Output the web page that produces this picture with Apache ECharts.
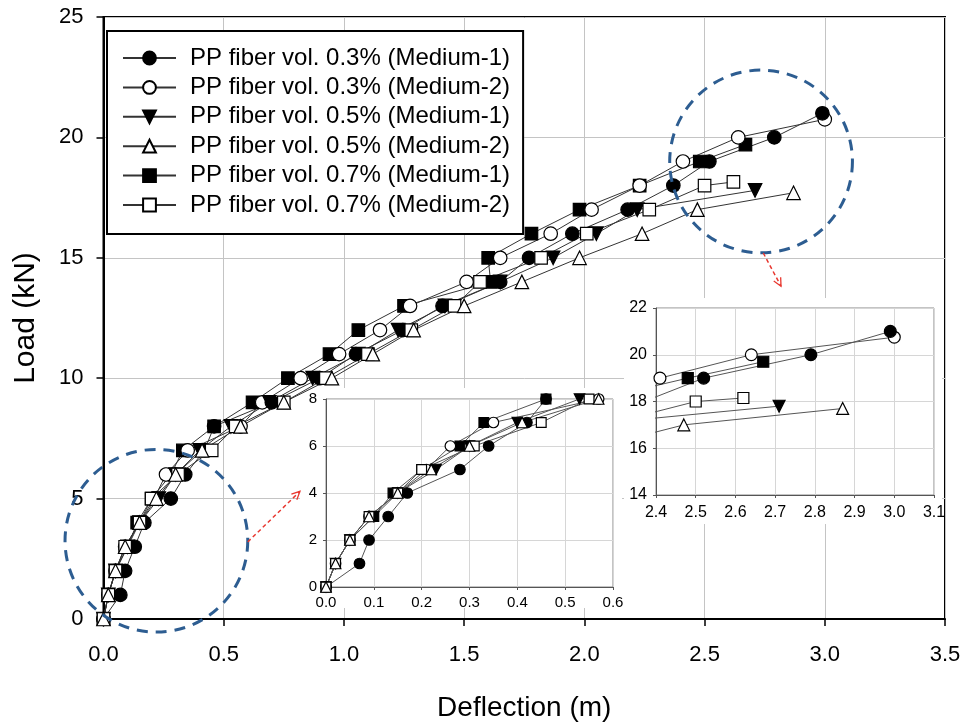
<!DOCTYPE html>
<html>
<head>
<meta charset="utf-8">
<script src="https://cdn.jsdelivr.net/npm/echarts@6/dist/echarts.min.js"></script>
<style>
html,body{margin:0;padding:0;background:#fff;}
#c{width:964px;height:727px;}
</style>
</head>
<body>
<div id="c"></div>
<script>
// ---- data (deflection in m, load in kN) ----
const names = [
  'PP fiber vol. 0.3% (Medium-1)',
  'PP fiber vol. 0.3% (Medium-2)',
  'PP fiber vol. 0.5% (Medium-1)',
  'PP fiber vol. 0.5% (Medium-2)',
  'PP fiber vol. 0.7% (Medium-1)',
  'PP fiber vol. 0.7% (Medium-2)'
];
const defl03m1 = [0,0.07,0.09,0.13,0.17,0.28,0.34,0.42,0.46,0.70,0.90,1.05,1.245,1.41,1.65,1.77,1.95,2.18,2.37,2.52,2.79,2.99];
const load03m1 = [0,1,2,3,4,5,6,7,8,9,10,11,12,13,14,15,16,17,18,19,20,21];
const defl03m2 = [0,0.02,0.05,0.09,0.15,0.21,0.26,0.35,0.57,0.66,0.82,0.98,1.15,1.275,1.51,1.65,1.86,2.03,2.23,2.41,2.64,3.0];
const load03m2 = [0,1,2,3,4,5,6,7,8,9,10,11,12,13,14,15,16,17,18,19,20,20.75];
const defl05m1 = [0,0.02,0.05,0.10,0.15,0.23,0.30,0.40,0.53,0.69,0.87,1.06,1.225,1.42,1.65,1.87,2.05,2.22,2.71];
const load05m1 = [0,1,2,3,4,5,6,7,8,9,10,11,12,13,14,15,16,17,17.8];
const defl05m2 = [0,0.02,0.05,0.09,0.15,0.22,0.30,0.41,0.57,0.75,0.95,1.12,1.29,1.50,1.74,1.98,2.24,2.47,2.87];
const load05m2 = [0,1,2,3,4,5,6,7,8,9,10,11,12,13,14,15,16,17,17.7];
const defl07m1 = [0,0.02,0.05,0.10,0.14,0.20,0.28,0.33,0.46,0.62,0.767,0.94,1.06,1.25,1.61,1.60,1.78,1.98,2.23,2.48,2.67];
const load07m1 = [0,1,2,3,4,5,6,7,8,9,10,11,12,13,14,15,16,17,18,19,19.7];
const defl07m2 = [0,0.02,0.05,0.09,0.15,0.20,0.31,0.45,0.55,0.75,0.925,1.10,1.28,1.46,1.566,1.82,2.01,2.27,2.50,2.62];
const load07m2 = [0,1,2,3,4,5,6,7,8,9,10,11,12,13,14,15,16,17,18,18.15];

// annotation anchors in main-chart data units
const circleCenters = [[0.22, 3.25], [2.735, 19.0]];
const circleRadiusX = 0.38;
const arrows = [[[0.60, 3.2], [0.817, 5.3]], [[2.744, 15.2], [2.818, 13.82]]];

const FONT = '"Liberation Sans", Arial, Helvetica, sans-serif';

const styles = [
  {defl: defl03m1, load: load03m1, symbol: 'circle', rotate: 0, fill: '#000', size: 13.5},
  {defl: defl03m2, load: load03m2, symbol: 'circle', rotate: 0, fill: '#fff', size: 13.5},
  {defl: defl05m1, load: load05m1, symbol: 'triangle', rotate: 180, fill: '#000', size: 13.5},
  {defl: defl05m2, load: load05m2, symbol: 'triangle', rotate: 0, fill: '#fff', size: 13.5},
  {defl: defl07m1, load: load07m1, symbol: 'rect', rotate: 0, fill: '#000', size: 12.5},
  {defl: defl07m2, load: load07m2, symbol: 'rect', rotate: 0, fill: '#fff', size: 12.5}
];
const drawOrder = [4, 1, 2, 0, 5, 3];

function mk(i, g, scale) {
  const s = styles[i];
  return {
    name: names[i], type: 'line', xAxisIndex: g, yAxisIndex: g,
    data: s.defl.map((d, k) => [d, s.load[k]]),
    symbol: s.symbol, symbolRotate: s.rotate, symbolSize: s.size * scale,
    showSymbol: true, showAllSymbol: true, clip: true,
    lineStyle: {color: g === 0 ? '#333' : '#555', width: 1},
    itemStyle: {color: s.fill, borderColor: '#000', borderWidth: 1.2},
    z: g === 0 ? 2 : 6, animation: false, emphasis: {disabled: true}
  };
}
const series = [];
[0, 1, 2].forEach(g => drawOrder.forEach(i => series.push(mk(i, g, g === 0 ? 1 : (g === 1 ? 0.78 : 0.88)))));

const fmt1 = v => Number(v).toFixed(1);

function insetX(g, min, max, fs, margin) {
  return {
    gridIndex: g, type: 'value', min, max, interval: 0.1, z: 5,
    axisLine: {onZero: false, lineStyle: {color: '#555', width: 1}},
    axisTick: {show: true, inside: false, length: 3, lineStyle: {color: '#555'}},
    axisLabel: {fontSize: fs, color: '#000', fontFamily: FONT, margin: margin, formatter: fmt1},
    splitLine: {show: true, lineStyle: {color: '#d6d6d6', width: 1}}
  };
}
function insetY(g, min, max, fs) {
  return {
    gridIndex: g, type: 'value', min, max, interval: 2, z: 5,
    axisLine: {onZero: false, lineStyle: {color: '#555', width: 1}},
    axisTick: {show: true, inside: false, length: 3, lineStyle: {color: '#555'}},
    axisLabel: {fontSize: fs, color: '#000', fontFamily: FONT, margin: 9},
    splitLine: {show: true, lineStyle: {color: '#d6d6d6', width: 1}}
  };
}

const option = {
  animation: false,
  backgroundColor: '#fff',
  grid: [
    {left: 103.5, top: 17, width: 841.5, height: 608, show: true, borderColor: '#000', borderWidth: 2, z: 0},
    {left: 326, top: 399, width: 287, height: 188, show: true, borderColor: '#888', borderWidth: 1, z: 5},
    {left: 656, top: 308, width: 278, height: 187, show: true, borderColor: '#888', borderWidth: 1, z: 5}
  ],
  xAxis: [
    {
      gridIndex: 0, type: 'value', min: 0, max: 3.5, interval: 0.5,
      name: 'Deflection (m)', nameLocation: 'middle', nameGap: 75,
      nameTextStyle: {fontSize: 28, color: '#000', fontFamily: FONT},
      axisLine: {onZero: false, lineStyle: {color: '#000', width: 2}},
      axisTick: {inside: false, length: 7, lineStyle: {color: '#000', width: 1.5}},
      axisLabel: {fontSize: 22, color: '#000', fontFamily: FONT, margin: 25, formatter: fmt1},
      splitLine: {show: true, lineStyle: {color: '#c4c4c4', width: 1}}
    },
    insetX(1, 0, 0.6, 15, 8),
    insetX(2, 2.4, 3.1, 16, 10)
  ],
  yAxis: [
    {
      gridIndex: 0, type: 'value', min: 0, max: 25, interval: 5,
      name: 'Load (kN)', nameLocation: 'middle', nameGap: 63,
      nameTextStyle: {fontSize: 30, color: '#000', fontFamily: FONT},
      axisLine: {onZero: false, lineStyle: {color: '#000', width: 2}},
      axisTick: {inside: false, length: 7, lineStyle: {color: '#000', width: 1.5}},
      axisLabel: {fontSize: 22, color: '#000', fontFamily: FONT, margin: 20},
      splitLine: {show: true, lineStyle: {color: '#c4c4c4', width: 1}}
    },
    insetY(1, 0, 8, 15),
    insetY(2, 14, 22, 16)
  ],
  legend: {
    data: names, orient: 'vertical', left: 107, top: 31,
    itemWidth: 53, itemHeight: 16, itemGap: 5.4,
    padding: [15, 13, 17, 15],
    borderColor: '#000', borderWidth: 2, backgroundColor: '#fff',
    selectedMode: false, z: 8,
    textStyle: {fontSize: 24, color: '#000', fontFamily: FONT, lineHeight: 24, padding: [0, 0, 0, 9]}
  },
  series: series
};

const chart = echarts.init(document.getElementById('c'), null, {renderer: 'canvas', width: 964, height: 727});
chart.setOption(option);

// ---- annotations: white panels behind the insets, dashed circles, arrows ----
function px(p) { return chart.convertToPixel({gridIndex: 0}, p); }
const graphics = [
  {type: 'rect', shape: {x: 300, y: 388, width: 322, height: 220}, style: {fill: '#fff'}, z: 1, silent: true},
  {type: 'rect', shape: {x: 624, y: 298, width: 318, height: 226}, style: {fill: '#fff'}, z: 1, silent: true}
];
const r = px([circleRadiusX, 0])[0] - px([0, 0])[0];
circleCenters.forEach(c => {
  const p = px(c);
  graphics.push({type: 'circle', shape: {cx: p[0], cy: p[1], r: r},
    style: {fill: null, stroke: '#2d5d91', lineWidth: 3, lineDash: [11, 8]}, z: 20, silent: true});
});
arrows.forEach(a => {
  const p0 = px(a[0]), p1 = px(a[1]);
  const ang = Math.atan2(p1[1] - p0[1], p1[0] - p0[0]);
  const L = 9, w = 0.45;
  const h1 = [p1[0] - L * Math.cos(ang - w), p1[1] - L * Math.sin(ang - w)];
  const h2 = [p1[0] - L * Math.cos(ang + w), p1[1] - L * Math.sin(ang + w)];
  graphics.push({type: 'line', shape: {x1: p0[0], y1: p0[1], x2: p1[0], y2: p1[1]},
    style: {stroke: '#e8372f', lineWidth: 1.5, lineDash: [4, 3]}, z: 20, silent: true});
  graphics.push({type: 'polyline', shape: {points: [h1, p1, h2]},
    style: {stroke: '#e8372f', lineWidth: 1.3, fill: null}, z: 20, silent: true});
});
chart.setOption({graphic: graphics});
</script>
</body>
</html>
